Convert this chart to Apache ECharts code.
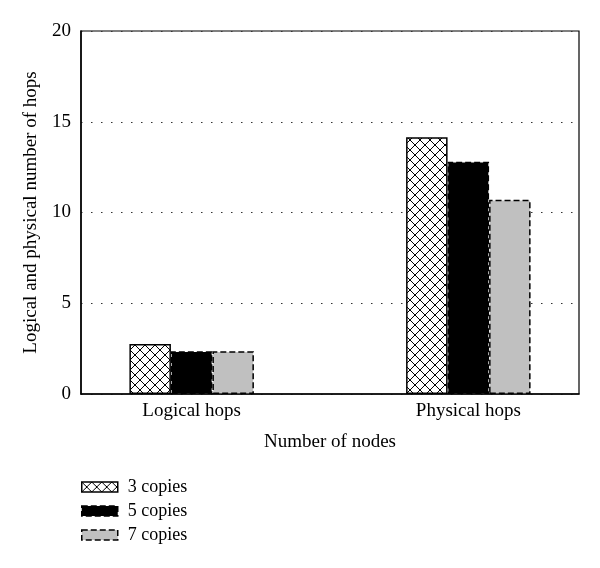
<!DOCTYPE html>
<html><head><meta charset="utf-8">
<script src="https://cdn.jsdelivr.net/npm/echarts@6/dist/echarts.min.js"></script>
<style>html,body{margin:0;padding:0;background:#fff}#c{width:600px;height:568px}</style>
</head><body><div id="c"></div>
<script>
var categories = ['Logical hops', 'Physical hops'];
var categoryPos = [4, 14];
var seriesNames = ['3 copies', '5 copies', '7 copies'];
var copies3 = [2.75, 14.15];
var copies5 = [2.35, 12.8];
var copies7 = [2.35, 10.7];
var yTicks = [0, 5, 10, 15, 20];

function hatch() {
  var c = document.createElement('canvas');
  c.width = 10; c.height = 10;
  var g = c.getContext('2d');
  g.fillStyle = '#fff'; g.fillRect(0, 0, 10, 10);
  g.strokeStyle = '#000'; g.lineWidth = 1;
  g.beginPath();
  g.moveTo(0, 0); g.lineTo(10, 10);
  g.moveTo(10, 0); g.lineTo(0, 10);
  g.stroke();
  return c;
}
var F = '"Liberation Serif", "DejaVu Serif", serif';
var chart = echarts.init(document.getElementById('c'));
var styles = [
  {color: {image: hatch(), repeat: 'repeat'}, borderColor: '#000', borderWidth: 1.5, borderType: 'solid'},
  {color: '#000', borderColor: '#000', borderWidth: 1.5, borderType: 'dashed'},
  {color: '#c0c0c0', borderColor: '#000', borderWidth: 1.5, borderType: 'dashed'}
];
var data = [copies3, copies5, copies7];
function pairs(arr) { return arr.map(function (v, i) { return [categoryPos[i], v]; }); }
chart.setOption({
  animation: false,
  textStyle: {fontFamily: F},
  legend: {
    orient: 'vertical', left: 76, top: 473, itemWidth: 36, itemHeight: 10, itemGap: 6,
    data: seriesNames.map(function (n, i) { return {name: n, icon: 'rect', itemStyle: styles[i]}; }),
    textStyle: {fontFamily: F, fontSize: 18, color: '#000', padding: [0, 0, 0, 5]}
  },
  grid: {left: 81, right: 21, top: 31, bottom: 174, show: true, borderColor: '#000', borderWidth: 1.2},
  xAxis: {type: 'value', min: 0, max: 18, interval: 1,
    axisLine: {onZero: false, lineStyle: {color: '#000', width: 1.5}}, axisTick: {show: false},
    splitLine: {show: false},
    axisLabel: {margin: 8, fontFamily: F, fontSize: 19, color: '#000',
      formatter: function (v) { var k = categoryPos.indexOf(v); return k >= 0 ? categories[k] : ''; }},
    name: 'Number of nodes', nameLocation: 'middle', nameGap: 39,
    nameTextStyle: {fontFamily: F, fontSize: 19, color: '#000'}},
  yAxis: {type: 'value', min: 0, max: 20, interval: 5,
    axisLine: {show: true, lineStyle: {color: '#000', width: 1.5}}, axisTick: {show: false},
    axisLabel: {margin: 10, fontFamily: F, fontSize: 19, color: '#000',
      formatter: function (v) { return yTicks.indexOf(v) >= 0 ? String(v) : ''; }},
    splitLine: {show: true, lineStyle: {color: '#333', type: [1.5, 8.5], width: 1.2}},
    name: 'Logical and physical number of hops', nameLocation: 'middle', nameGap: 40,
    nameTextStyle: {fontFamily: F, fontSize: 19, color: '#000'}},
  series: seriesNames.map(function (n, i) {
    return {name: n, type: 'bar', barWidth: 41.5, barGap: '0%',
      data: pairs(data[i]), itemStyle: styles[i], clip: false};
  })
});
</script></body></html>
